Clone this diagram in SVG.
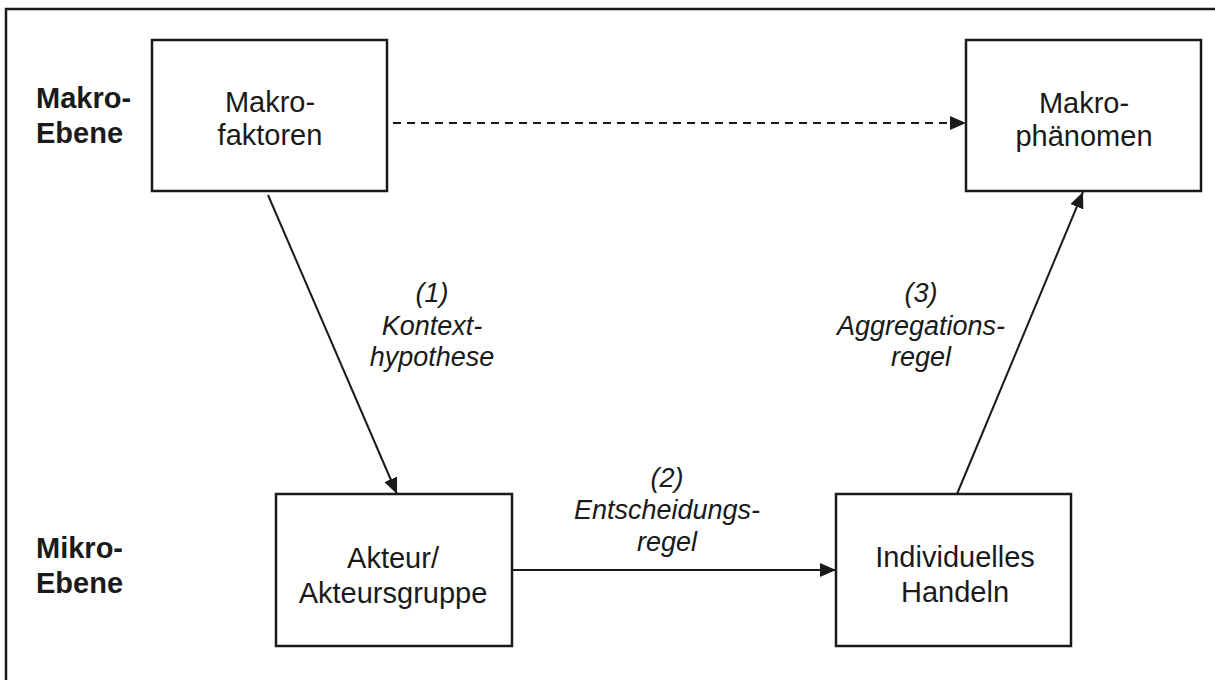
<svg xmlns="http://www.w3.org/2000/svg" width="1215" height="680" viewBox="0 0 1215 680">
<defs>
<marker id="ah" markerWidth="16" markerHeight="14" refX="16" refY="7" orient="auto" markerUnits="userSpaceOnUse">
<path d="M0,0 L16,7 L0,14 Z" fill="#1a1a1a"/>
</marker>
</defs>
<style>
.box{fill:#fff;stroke:#1a1a1a;stroke-width:2.5}
.t{font-family:"Liberation Sans",Arial,sans-serif;font-size:29px;fill:#1a1a1a;text-anchor:middle}
.b{font-family:"Liberation Sans",Arial,sans-serif;font-size:29px;font-weight:bold;fill:#1a1a1a}
.i{font-family:"Liberation Sans",Arial,sans-serif;font-size:27px;font-style:italic;fill:#1a1a1a;text-anchor:middle}
.c{fill:none;stroke:#1a1a1a;stroke-width:2}
</style>
<rect x="0" y="0" width="1215" height="680" fill="#fff"/>
<rect x="6" y="9" width="1220" height="690" fill="none" stroke="#1a1a1a" stroke-width="2.5"/>
<g id="level-labels">
<text class="b" x="36" y="108">Makro-</text>
<text class="b" x="36" y="143">Ebene</text>
<text class="b" x="36" y="558">Mikro-</text>
<text class="b" x="36" y="593">Ebene</text>
</g>
<g id="makrofaktoren">
<rect class="box" x="152" y="40" width="235" height="151"/>
<text class="t" x="270" y="112">Makro-</text>
<text class="t" x="270" y="145">faktoren</text>
</g>
<g id="makrophaenomen">
<rect class="box" x="966" y="40" width="235" height="151"/>
<text class="t" x="1084" y="113">Makro-</text>
<text class="t" x="1084" y="146">phänomen</text>
</g>
<g id="akteur">
<rect class="box" x="276" y="494" width="236" height="152"/>
<text class="t" x="393" y="568">Akteur/</text>
<text class="t" x="393" y="603">Akteursgruppe</text>
</g>
<g id="handeln">
<rect class="box" x="836" y="494" width="235" height="152"/>
<text class="t" x="955" y="567">Individuelles</text>
<text class="t" x="955" y="602">Handeln</text>
</g>
<g id="connectors">
<line class="c" x1="393" y1="123" x2="966" y2="123" stroke-dasharray="8,6" marker-end="url(#ah)"/>
<line class="c" x1="268" y1="195" x2="397" y2="494" marker-end="url(#ah)"/>
<line class="c" x1="512" y1="570" x2="836" y2="570" marker-end="url(#ah)"/>
<line class="c" x1="957" y1="494" x2="1083" y2="192" marker-end="url(#ah)"/>
</g>
<g id="labels">
<text class="i" x="432" y="302">(1)</text>
<text class="i" x="432" y="335">Kontext-</text>
<text class="i" x="432" y="366">hypothese</text>
<text class="i" x="667" y="487">(2)</text>
<text class="i" x="667" y="519">Entscheidungs-</text>
<text class="i" x="667" y="551">regel</text>
<text class="i" x="921" y="302">(3)</text>
<text class="i" x="921" y="335">Aggregations-</text>
<text class="i" x="921" y="366">regel</text>
</g>
</svg>
